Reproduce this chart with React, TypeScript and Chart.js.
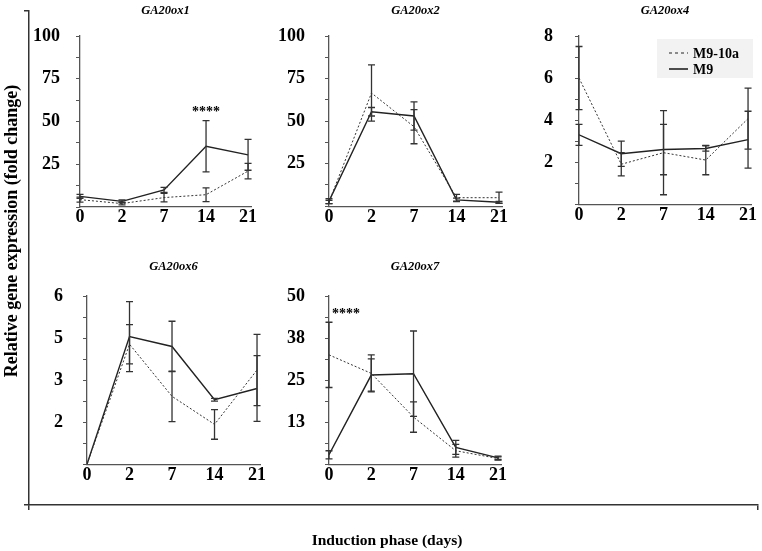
import React, { useEffect, useRef } from 'react';
import { Chart, registerables } from 'chart.js';
Chart.register(...registerables);

const days = ['0', '2', '7', '14', '21'];
const seriesNames = ['M9-10a', 'M9'];
const genes = ['GA20ox1', 'GA20ox2', 'GA20ox4', 'GA20ox6', 'GA20ox7'];
const yMaxes = [100, 100, 8, 6, 50];
const ySteps = [12.5, 12.5, 1, 0.75, 6.25];

// M9-10a (dotted) and M9 (solid) means and error values per gene
const ox1_M910a = [4.3, 2.0, 5.5, 7.2, 21];
const ox1_M910a_err = [1.5, 0.8, 2.5, 4, 4.5];
const ox1_M9 = [6.2, 3.3, 10, 35.5, 30.5];
const ox1_M9_err = [1.2, 0.8, 1.5, 15, 9];

const ox2_M910a = [2.5, 66.5, 46.7, 5, 5];
const ox2_M910a_err = [1, 16.5, 10, 2, 3.3];
const ox2_M9 = [3, 55.5, 53, 3.7, 2.3];
const ox2_M9_err = [1.5, 2.5, 8.3, 1, 0.5];

const ox4_M910a = [6.0, 1.9, 2.45, 2.1, 4.07];
const ox4_M910a_err = [1.5, 0.55, 2.0, 0.7, 1.45];
const ox4_M9 = [3.3, 2.4, 2.6, 2.65, 3.07];
const ox4_M9_err = [0.5, 0.6, 1.2, 0.13, 1.35];

const ox6_M910a = [0, 4.28, 2.42, 1.42, 3.36];
const ox6_M910a_err = [0, 0.7, 0.9, 0.53, 1.27];
const ox6_M9 = [0, 4.55, 4.2, 2.3, 2.7];
const ox6_M9_err = [0, 1.25, 0.9, 0.05, 1.17];

const ox7_M910a = [32.5, 27, 14, 4, 1.7];
const ox7_M910a_err = [9.7, 5.5, 4.5, 1.9, 0.5];
const ox7_M9 = [2.8, 26.5, 26.9, 5, 1.9];
const ox7_M9_err = [1.2, 4.8, 12.7, 2.1, 0.5];

const dottedValues = [ox1_M910a, ox2_M910a, ox4_M910a, ox6_M910a, ox7_M910a];
const dottedErrors = [ox1_M910a_err, ox2_M910a_err, ox4_M910a_err, ox6_M910a_err, ox7_M910a_err];
const solidValues = [ox1_M9, ox2_M9, ox4_M9, ox6_M9, ox7_M9];
const solidErrors = [ox1_M9_err, ox2_M9_err, ox4_M9_err, ox6_M9_err, ox7_M9_err];

// significance marks: panel, day index, y value
const starPanels = [0, 4];
const starDays = [3, 0];
const starValues = [57, 45.3];
const starText = '****';

const legendPanel = 2;
const xTitle = 'Induction phase (days)';
const yTitle = 'Relative gene expression (fold change)';

const SERIF = "'Liberation Serif', 'Times New Roman', serif";

const layouts = [
  { left: 80, top: 36, right: 251, bottom: 207, tickPad: 16, titleGap: 25 },
  { left: 329, top: 36, right: 502, bottom: 207, tickPad: 20, titleGap: 25 },
  { left: 579, top: 36, right: 751, bottom: 207, tickPad: 22, titleGap: 25 },
  { left: 87, top: 296, right: 260, bottom: 465, tickPad: 20, titleGap: 29 },
  { left: 329, top: 296, right: 501, bottom: 465, tickPad: 20, titleGap: 29 },
];
const YW = 60;
const PADTOP = 40;
const PADRIGHT = 14;
const XH = 30;

const errorBarPlugin = {
  id: 'errorBars',
  afterDatasetsDraw(chart: any) {
    const ctx = chart.ctx;
    const ys = chart.scales.y;
    chart.data.datasets.forEach((ds: any, di: number) => {
      const meta = chart.getDatasetMeta(di);
      ctx.save();
      ctx.strokeStyle = '#333';
      ctx.lineWidth = 1.3;
      meta.data.forEach((pt: any, i: number) => {
        const e = ds.errors[i];
        if (!e) return;
        const v = ds.data[i].y;
        const x = pt.x;
        const y1 = ys.getPixelForValue(v + e);
        const y2 = ys.getPixelForValue(v - e);
        ctx.beginPath();
        ctx.moveTo(x, y1);
        ctx.lineTo(x, y2);
        ctx.moveTo(x - 3.5, y1);
        ctx.lineTo(x + 3.5, y1);
        ctx.moveTo(x - 3.5, y2);
        ctx.lineTo(x + 3.5, y2);
        ctx.stroke();
      });
      ctx.restore();
    });
  },
};

const panelTextPlugin = {
  id: 'panelText',
  afterDraw(chart: any, _args: any, opts: any) {
    const ctx = chart.ctx;
    const ca = chart.chartArea;
    ctx.save();
    ctx.fillStyle = '#000';
    ctx.font = `italic bold 12.5px ${SERIF}`;
    ctx.textAlign = 'center';
    ctx.textBaseline = 'middle';
    ctx.fillText(opts.title, (ca.left + ca.right) / 2, ca.top - opts.titleGap);
    // stars
    opts.stars.forEach((s: any) => {
      ctx.font = `bold 14px ${SERIF}`;
      const x = chart.scales.x.getPixelForValue(s.day);
      const y = chart.scales.y.getPixelForValue(s.value);
      ctx.textAlign = s.day === 0 ? 'left' : 'center';
      ctx.fillText(starText, s.day === 0 ? x + 3 : x, y + 3);
    });
    if (opts.legend) {
      const bx = ca.right - 94;
      const by = ca.top + 3;
      ctx.fillStyle = '#f2f2f2';
      ctx.fillRect(bx, by, 96, 39);
      ctx.strokeStyle = '#222';
      seriesNames.forEach((name, i) => {
        const yy = by + 14 + i * 16;
        ctx.beginPath();
        ctx.lineWidth = i === 0 ? 1.2 : 1.6;
        ctx.setLineDash(i === 0 ? [3, 3] : []);
        ctx.moveTo(bx + 12, yy);
        ctx.lineTo(bx + 31, yy);
        ctx.stroke();
        ctx.setLineDash([]);
        ctx.fillStyle = '#000';
        ctx.font = `bold 14px ${SERIF}`;
        ctx.textAlign = 'left';
        ctx.textBaseline = 'middle';
        ctx.fillText(name, bx + 36, yy + 1);
      });
    }
    ctx.restore();
  },
};

const frameTextPlugin = {
  id: 'frameText',
  afterDraw(chart: any) {
    const ctx = chart.ctx;
    ctx.save();
    ctx.fillStyle = '#000';
    ctx.textAlign = 'center';
    ctx.textBaseline = 'middle';
    ctx.font = `bold 15.5px ${SERIF}`;
    ctx.fillText(xTitle, 387, 541);
    ctx.font = `bold 18px ${SERIF}`;
    ctx.translate(12, 231);
    ctx.rotate(-Math.PI / 2);
    ctx.fillText(yTitle, 0, 0);
    ctx.restore();
  },
};

function Panel({ index }: { index: number }) {
  const ref = useRef<HTMLCanvasElement>(null);
  const L = layouts[index];
  const cLeft = L.left - YW;
  const cTop = L.top - PADTOP;
  const cW = L.right - cLeft + PADRIGHT;
  const cH = L.bottom - cTop + XH;
  useEffect(() => {
    const toPts = (arr: number[]) => arr.map((v, i) => ({ x: i, y: v }));
    const stars = starPanels
      .map((p, k) => (p === index ? { day: starDays[k], value: starValues[k] } : null))
      .filter(Boolean);
    const tickFont = { family: SERIF, size: 18, weight: 'bold' as const };
    const chart = new Chart(ref.current!, {
      type: 'line',
      data: {
        datasets: [
          {
            label: seriesNames[0],
            data: toPts(dottedValues[index]),
            errors: dottedErrors[index],
            borderColor: '#333',
            borderWidth: 1,
            borderDash: [2, 2],
            pointRadius: 0,
            tension: 0,
            fill: false,
          } as any,
          {
            label: seriesNames[1],
            data: toPts(solidValues[index]),
            errors: solidErrors[index],
            borderColor: '#222',
            borderWidth: 1.4,
            pointRadius: 0,
            tension: 0,
            fill: false,
          } as any,
        ],
      },
      options: {
        animation: false,
        responsive: false,
        maintainAspectRatio: false,
        layout: { padding: { top: PADTOP, right: PADRIGHT, left: 0, bottom: 0 } },
        plugins: {
          legend: { display: false },
          tooltip: { enabled: false },
          title: { display: false },
          panelText: {
            title: genes[index],
            titleGap: L.titleGap,
            stars,
            legend: index === legendPanel,
          },
        } as any,
        scales: {
          x: {
            type: 'linear',
            min: 0,
            max: 4.07,
            afterFit: (s: any) => {
              s.height = XH;
            },
            ticks: {
              stepSize: 1,
              includeBounds: false,
              autoSkip: false,
              maxRotation: 0,
              padding: 0,
              color: '#000',
              font: tickFont,
              callback: (v: any) => (Number.isInteger(v) ? days[v] ?? '' : ''),
            },
            grid: { display: false, drawTicks: false },
            border: { display: true, color: '#555', width: 1.3 },
          },
          y: {
            type: 'linear',
            min: 0,
            max: yMaxes[index],
            afterFit: (s: any) => {
              s.width = YW;
            },
            ticks: {
              stepSize: ySteps[index],
              autoSkip: false,
              padding: L.tickPad,
              color: '#000',
              font: tickFont,
              callback: (v: any, i: number) =>
                i > 0 && i % 2 === 0 ? String(Math.round(Number(v) + 1e-9)) : '',
            },
            grid: { drawOnChartArea: false, drawTicks: true, tickLength: 4, color: '#555', lineWidth: 1 },
            border: { display: true, color: '#555', width: 1.3 },
          },
        },
      },
      plugins: [errorBarPlugin, panelTextPlugin],
    });
    return () => chart.destroy();
  }, [index]);
  return (
    <canvas
      ref={ref}
      width={cW}
      height={cH}
      style={{ position: 'absolute', left: cLeft, top: cTop, width: cW, height: cH }}
    />
  );
}

function Frame() {
  const ref = useRef<HTMLCanvasElement>(null);
  useEffect(() => {
    const chart = new Chart(ref.current!, {
      type: 'line',
      data: { datasets: [] },
      options: {
        animation: false,
        responsive: false,
        maintainAspectRatio: false,
        layout: { padding: { top: 11, right: 4, left: 0, bottom: 0 } },
        plugins: { legend: { display: false }, tooltip: { enabled: false } },
        scales: {
          x: {
            type: 'linear',
            min: 0,
            max: 1,
            afterFit: (s: any) => {
              s.height = 46;
            },
            ticks: { display: false, stepSize: 1 },
            grid: { drawOnChartArea: false, drawTicks: true, tickLength: 5, color: '#333', lineWidth: 1.5 },
            border: { display: true, color: '#333', width: 1.5 },
          },
          y: {
            type: 'linear',
            min: 0,
            max: 1,
            afterFit: (s: any) => {
              s.width = 29;
            },
            ticks: { display: false, stepSize: 1 },
            grid: { drawOnChartArea: false, drawTicks: true, tickLength: 5, color: '#333', lineWidth: 1.5 },
            border: { display: true, color: '#333', width: 1.5 },
          },
        },
      },
      plugins: [frameTextPlugin],
    });
    return () => chart.destroy();
  }, []);
  return (
    <canvas
      ref={ref}
      width={762}
      height={551}
      style={{ position: 'absolute', left: 0, top: 0, width: 762, height: 551 }}
    />
  );
}

export default function App() {
  return (
    <div style={{ position: 'absolute', left: 0, top: 0, width: 762, height: 551, background: '#fff' }}>
      <Frame />
      {genes.map((g, i) => (
        <Panel key={g} index={i} />
      ))}
    </div>
  );
}
